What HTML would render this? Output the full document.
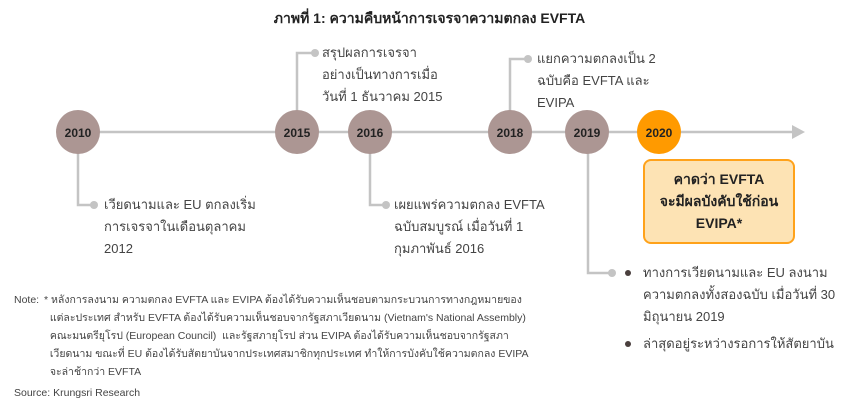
<!DOCTYPE html>
<html><head><meta charset="utf-8"><style>
html,body{margin:0;padding:0;background:#fff;}
body{width:859px;height:409px;position:relative;overflow:hidden;font-family:"Liberation Sans","DejaVu Sans",sans-serif;color:#333;}
.t{position:absolute;white-space:nowrap;font-size:13px;line-height:22px;color:#444;}
.n{position:absolute;white-space:nowrap;font-size:10.5px;line-height:18px;color:#444;}
svg{position:absolute;left:0;top:0;}
</style></head><body>
<svg width="859" height="409">
<g stroke="#c4c4c4" stroke-width="2.5" fill="none">
<line x1="78" y1="132" x2="793" y2="132"/>
<polyline points="78,132 78,205 93,205"/>
<polyline points="297,132 297,53 312,53"/>
<polyline points="370,132 370,205 383,205"/>
<polyline points="510,132 510,59 525,59"/>
<polyline points="588,132 588,273 610,273"/>
</g>
<polygon points="792,125 805,132 792,139" fill="#c4c4c4"/>
<g fill="#c4c4c4">
<circle cx="94" cy="205" r="4"/><circle cx="315" cy="53" r="4"/><circle cx="386" cy="205" r="4"/><circle cx="528" cy="59" r="4"/><circle cx="612" cy="273" r="4"/>
</g>
<g fill="#ac9693">
<circle cx="78" cy="132" r="22"/><circle cx="297" cy="132" r="22"/><circle cx="370" cy="132" r="22"/><circle cx="510" cy="132" r="22"/><circle cx="587" cy="132" r="22"/>
</g>
<circle cx="659" cy="132" r="22" fill="#ff9a00"/>
<g font-family="Liberation Sans,sans-serif" font-weight="bold" font-size="12" fill="#222" text-anchor="middle">
<text x="78" y="137">2010</text><text x="297" y="137">2015</text><text x="370" y="137">2016</text><text x="510" y="137">2018</text><text x="587" y="137">2019</text><text x="659" y="137">2020</text>
</g>
<rect x="644" y="160" width="150" height="83" rx="7" fill="#fde3b4" stroke="#ffa21a" stroke-width="2"/>
<g fill="#4a3f3d"><circle cx="628" cy="273" r="3"/><circle cx="628" cy="344" r="3"/></g>
</svg>
<div style="position:absolute;left:0;width:859px;top:8px;text-align:center;font-weight:bold;font-size:14px;color:#222;">ภาพที่ 1: ความคืบหน้าการเจรจาความตกลง EVFTA</div>
<div class="t" style="left:104px;top:194px">เวียดนามและ EU ตกลงเริ่ม<br>การเจรจาในเดือนตุลาคม<br>2012</div>
<div class="t" style="left:322px;top:42px">สรุปผลการเจรจา<br>อย่างเป็นทางการเมื่อ<br>วันที่ 1 ธันวาคม 2015</div>
<div class="t" style="left:394px;top:194px">เผยแพร่ความตกลง EVFTA<br>ฉบับสมบูรณ์ เมื่อวันที่ 1<br>กุมภาพันธ์ 2016</div>
<div class="t" style="left:537px;top:48px">แยกความตกลงเป็น 2<br>ฉบับคือ EVFTA และ<br>EVIPA</div>
<div class="t" style="left:643px;top:262px">ทางการเวียดนามและ EU ลงนาม<br>ความตกลงทั้งสองฉบับ เมื่อวันที่ 30<br>มิถุนายน 2019</div>
<div class="t" style="left:643px;top:333px">ล่าสุดอยู่ระหว่างรอการให้สัตยาบัน</div>
<div class="t" style="left:644px;top:168px;width:150px;text-align:center;font-weight:bold;color:#222;font-size:14px;">คาดว่า EVFTA<br>จะมีผลบังคับใช้ก่อน<br>EVIPA*</div>
<div class="n" style="left:14px;top:291px">Note:</div>
<div class="n" style="left:44px;top:291px">* หลังการลงนาม ความตกลง EVFTA และ EVIPA ต้องได้รับความเห็นชอบตามกระบวนการทางกฎหมายของ<br>&nbsp;&nbsp;แต่ละประเทศ สำหรับ EVFTA ต้องได้รับความเห็นชอบจากรัฐสภาเวียดนาม (Vietnam's National Assembly)<br>&nbsp;&nbsp;คณะมนตรียุโรป (European Council)&nbsp; และรัฐสภายุโรป ส่วน EVIPA ต้องได้รับความเห็นชอบจากรัฐสภา<br>&nbsp;&nbsp;เวียดนาม ขณะที่ EU ต้องได้รับสัตยาบันจากประเทศสมาชิกทุกประเทศ ทำให้การบังคับใช้ความตกลง EVIPA<br>&nbsp;&nbsp;จะล่าช้ากว่า EVFTA</div>
<div class="n" style="left:14px;top:384px;font-size:10.5px">Source: Krungsri Research</div>
</body></html>
